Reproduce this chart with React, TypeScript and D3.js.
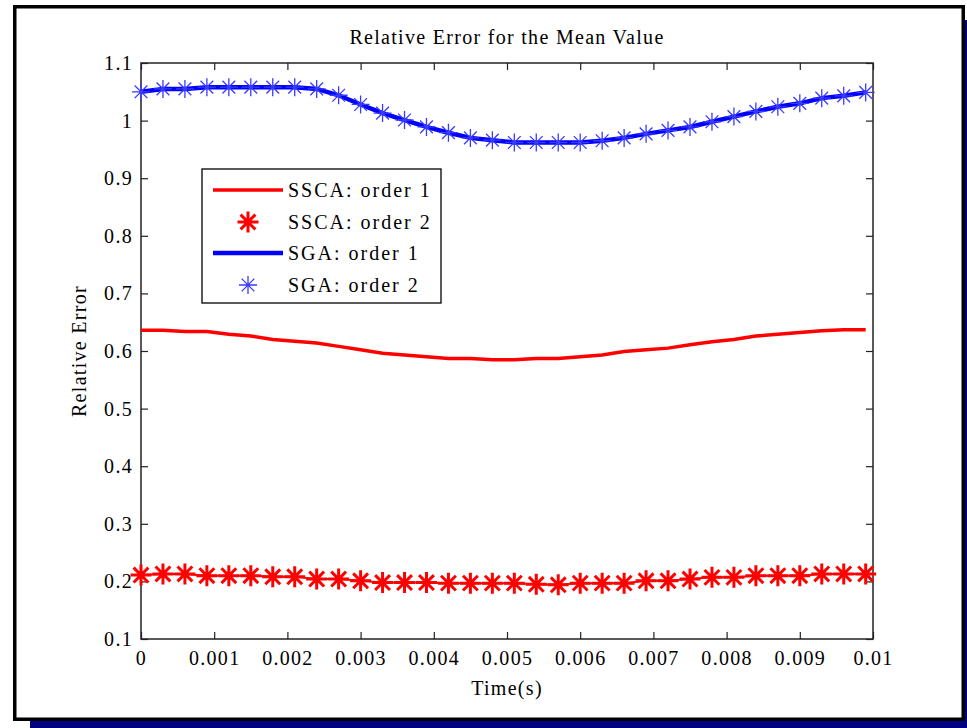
import React, { useEffect, useRef } from 'react';
import * as d3 from 'd3';

// sample times (s)
const times = [0, 0.0003, 0.0006, 0.0009, 0.0012, 0.0015, 0.0018, 0.0021, 0.0024, 0.0027,
  0.003, 0.0033, 0.0036, 0.0039, 0.0042, 0.0045, 0.0048, 0.0051, 0.0054, 0.0057,
  0.006, 0.0063, 0.0066, 0.0069, 0.0072, 0.0075, 0.0078, 0.0081, 0.0084, 0.0087,
  0.009, 0.0093, 0.0096, 0.0099];

const sscaOrder1 = [0.636, 0.636, 0.634, 0.634, 0.629, 0.626, 0.620, 0.617, 0.614, 0.608,
  0.602, 0.596, 0.593, 0.590, 0.587, 0.587, 0.585, 0.585, 0.587, 0.587,
  0.590, 0.593, 0.599, 0.602, 0.605, 0.611, 0.616, 0.620, 0.626, 0.629,
  0.632, 0.635, 0.637, 0.637];

const sscaOrder2 = [0.211, 0.213, 0.213, 0.210, 0.210, 0.210, 0.208, 0.208, 0.204, 0.204,
  0.201, 0.198, 0.198, 0.198, 0.197, 0.197, 0.197, 0.197, 0.195, 0.194,
  0.197, 0.197, 0.197, 0.201, 0.201, 0.204, 0.207, 0.207, 0.210, 0.210,
  0.210, 0.213, 0.213, 0.213];

const sgaOrder1 = [1.050, 1.055, 1.055, 1.058, 1.058, 1.058, 1.058, 1.058, 1.055, 1.044,
  1.028, 1.013, 1.001, 0.989, 0.979, 0.970, 0.966, 0.962, 0.962, 0.962,
  0.962, 0.965, 0.970, 0.977, 0.983, 0.989, 0.998, 1.007, 1.016, 1.024,
  1.030, 1.039, 1.043, 1.049];

const sgaOrder2 = [1.050, 1.055, 1.055, 1.058, 1.058, 1.058, 1.058, 1.058, 1.055, 1.044,
  1.028, 1.013, 1.001, 0.989, 0.979, 0.970, 0.966, 0.962, 0.962, 0.962,
  0.962, 0.965, 0.970, 0.977, 0.983, 0.989, 0.998, 1.007, 1.016, 1.024,
  1.030, 1.039, 1.043, 1.049];

const xTicks = [0, 0.001, 0.002, 0.003, 0.004, 0.005, 0.006, 0.007, 0.008, 0.009, 0.01];
const yTicks = [0.1, 0.2, 0.3, 0.4, 0.5, 0.6, 0.7, 0.8, 0.9, 1, 1.1];

const legendLabels = ['SSCA: order 1', 'SSCA: order 2', 'SGA: order 1', 'SGA: order 2'];

const FONT = '"Liberation Serif", "Times New Roman", serif';

const W = 967;
const H = 728;
const plot = { left: 141, right: 873, top: 63, bottom: 639 };

// 8-armed MATLAB style asterisk
const asterisk = (r: number) => {
  const d = r * Math.SQRT1_2;
  return `M${-r},0L${r},0M0,${-r}L0,${r}M${-d},${-d}L${d},${d}M${-d},${d}L${d},${-d}`;
};

const App = () => {
  const svgRef = useRef<SVGSVGElement>(null);

  useEffect(() => {
    const svg = d3.select(svgRef.current);
    svg.selectAll('*').remove();

    const x = d3.scaleLinear().domain([0, 0.01]).range([plot.left, plot.right]);
    const y = d3.scaleLinear().domain([0.1, 1.1]).range([plot.bottom, plot.top]);

    // frame: navy shadow + white panel with black border
    svg.append('rect').attr('x', 30).attr('y', 20).attr('width', W - 30).attr('height', H - 20).attr('fill', '#000080');
    svg.append('rect').attr('x', 14.75).attr('y', 6.75).attr('width', 948.5).attr('height', 712.5)
      .attr('fill', '#fff').attr('stroke', '#000').attr('stroke-width', 3.5);

    const fmt = (d: number) => String(+d.toFixed(3));

    const styleAxis = (g: any) => {
      g.select('.domain').remove();
      g.selectAll('line').attr('stroke', '#222').attr('stroke-width', 1.2);
      g.selectAll('text').attr('fill', '#000').style('font-family', FONT).style('font-size', '20px')
        .style('letter-spacing', '1.3px');
    };

    svg.append('g').attr('transform', `translate(0,${plot.bottom})`)
      .call(d3.axisBottom(x).tickValues(xTicks).tickFormat(fmt as any).tickSizeInner(-7).tickSizeOuter(0).tickPadding(12))
      .call(styleAxis);
    svg.append('g').attr('transform', `translate(0,${plot.top})`)
      .call(d3.axisTop(x).tickValues(xTicks).tickFormat(() => '').tickSizeInner(-7).tickSizeOuter(0))
      .call(styleAxis);
    svg.append('g').attr('transform', `translate(${plot.left},0)`)
      .call(d3.axisLeft(y).tickValues(yTicks).tickFormat(fmt as any).tickSizeInner(-7).tickSizeOuter(0).tickPadding(8))
      .call(styleAxis);
    svg.append('g').attr('transform', `translate(${plot.right},0)`)
      .call(d3.axisRight(y).tickValues(yTicks).tickFormat(() => '').tickSizeInner(-7).tickSizeOuter(0))
      .call(styleAxis);

    svg.append('rect').attr('x', plot.left).attr('y', plot.top)
      .attr('width', plot.right - plot.left).attr('height', plot.bottom - plot.top)
      .attr('fill', 'none').attr('stroke', '#222').attr('stroke-width', 1.5);

    const line = d3.line<number>().x((d, i) => x(times[i])).y(d => y(d));

    // SSCA order 2: thin line + bold red asterisks
    svg.append('path').attr('d', line(sscaOrder2)).attr('fill', 'none').attr('stroke', '#ff0000').attr('stroke-width', 2);
    svg.append('g').selectAll('path').data(sscaOrder2).join('path')
      .attr('transform', (d, i) => `translate(${x(times[i])},${y(d)})`)
      .attr('d', asterisk(10.5)).attr('fill', 'none').attr('stroke', '#ff0000').attr('stroke-width', 3);

    // SSCA order 1
    svg.append('path').attr('d', line(sscaOrder1)).attr('fill', 'none').attr('stroke', '#ff0000').attr('stroke-width', 3.5);

    // SGA order 1
    svg.append('path').attr('d', line(sgaOrder1)).attr('fill', 'none').attr('stroke', '#0000ff').attr('stroke-width', 4.5);

    // SGA order 2 markers
    svg.append('g').selectAll('path').data(sgaOrder2).join('path')
      .attr('transform', (d, i) => `translate(${x(times[i])},${y(d)})`)
      .attr('d', asterisk(9)).attr('fill', 'none').attr('stroke', '#3a3aff').attr('stroke-width', 1.3);

    const textStyle = (t: any, spacing = 1.3) => t.attr('fill', '#000').style('font-family', FONT).style('font-size', '20px')
      .style('letter-spacing', `${spacing}px`);

    svg.append('text').attr('x', (plot.left + plot.right) / 2).attr('y', 44).attr('text-anchor', 'middle')
      .text('Relative Error for the Mean Value').call(textStyle);
    svg.append('text').attr('x', (plot.left + plot.right) / 2).attr('y', 695).attr('text-anchor', 'middle')
      .text('Time(s)').call(textStyle);
    svg.append('text').attr('transform', `translate(86,${(plot.top + plot.bottom) / 2}) rotate(-90)`)
      .attr('text-anchor', 'middle').text('Relative Error').call(textStyle);

    // legend
    const lg = svg.append('g');
    lg.append('rect').attr('x', 202).attr('y', 169).attr('width', 239).attr('height', 134)
      .attr('fill', '#fff').attr('stroke', '#000').attr('stroke-width', 1.3);
    const rows = [190, 222, 253, 285];
    legendLabels.forEach((label, i) => {
      const cy = rows[i];
      if (i === 0) lg.append('line').attr('x1', 213).attr('x2', 283).attr('y1', cy).attr('y2', cy).attr('stroke', '#ff0000').attr('stroke-width', 3.5);
      if (i === 1) lg.append('path').attr('transform', `translate(248,${cy})`).attr('d', asterisk(10.5)).attr('fill', 'none').attr('stroke', '#ff0000').attr('stroke-width', 3);
      if (i === 2) lg.append('line').attr('x1', 213).attr('x2', 283).attr('y1', cy).attr('y2', cy).attr('stroke', '#0000ff').attr('stroke-width', 4.5);
      if (i === 3) lg.append('path').attr('transform', `translate(248,${cy})`).attr('d', asterisk(9)).attr('fill', 'none').attr('stroke', '#3a3aff').attr('stroke-width', 1.3);
      lg.append('text').attr('x', 288).attr('y', cy + 7).text(label).call(textStyle, 2);
    });
  }, []);

  return (
    <div style={{ position: 'absolute', left: 0, top: 0 }}>
      <svg ref={svgRef} width={W} height={H} style={{ display: 'block' }} />
    </div>
  );
};

export default App;
